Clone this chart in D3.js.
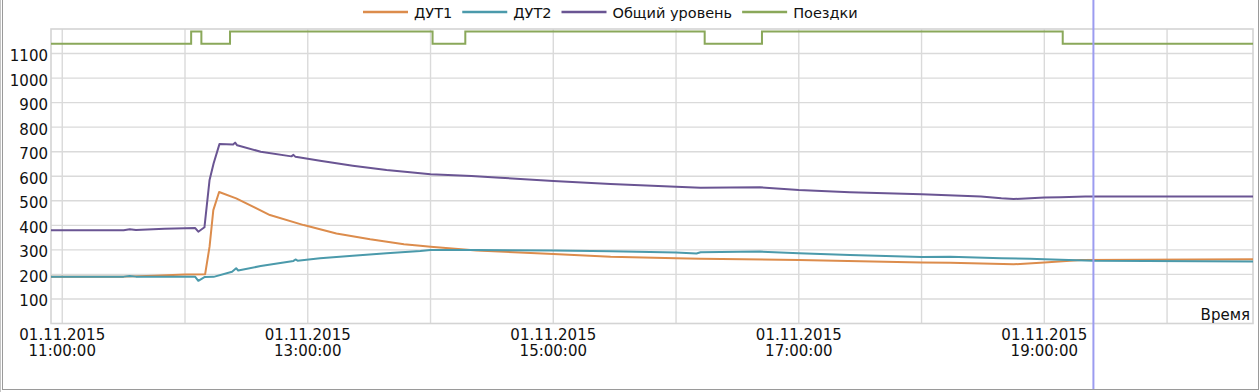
<!DOCTYPE html>
<html><head><meta charset="utf-8">
<script src="https://cdn.jsdelivr.net/npm/d3@7"></script>
<style>body{margin:0;background:#fff;}svg{display:block;font-family:"DejaVu Sans",sans-serif;}</style>
</head><body>
<svg id="c" width="1260" height="392"></svg>
<script>
// ---- data (time of day on 01.11.2015, value) ----
const seriesNames = ["ДУТ1", "ДУТ2", "Общий уровень", "Поездки"];
const dut1 = [["10:54:30",191],["11:30",191],["11:45",195],["12:00",200],["12:09:50",201],["12:12",313],["12:13:50",462],["12:16:40",536],["12:25",510],["12:41:30",442],["12:58",401],["13:14",367],["13:30:30",343],["13:47",323],["13:55",317],["14:00",313],["14:22:30",297],["15:00",283],["15:28",272],["16:00",266],["16:12",264],["17:00",259],["18:00",249],["18:14",248],["18:45",241],["19:00",249],["19:18",259],["20:42",262]];
const dut2 = [["10:54:30",191],["11:30",191],["11:33",194],["11:36",191],["12:05",190],["12:06:30",174],["12:09:30",189],["12:14",190],["12:23",211],["12:25",225],["12:26",216],["12:37",234],["12:53",255],["12:54",261],["12:55",256],["13:06",266],["13:22",276],["13:38:30",286],["13:55",295],["14:00",299],["14:22",299],["15:00",297],["15:28",294],["16:00",289],["16:10",285],["16:12",290],["16:41",293],["17:00",286],["17:25",279],["18:00",271],["18:14",272],["18:39",266],["18:53",264],["19:00",262],["19:24",256],["20:42",253]];
const total = [["10:54:30",380],["11:30",380],["11:33",384],["11:36",381],["11:50",386],["12:05",389],["12:06:30",374],["12:09:30",392],["12:12",585],["12:14",653],["12:16:50",731],["12:23:30",729],["12:24:30",737],["12:25:30",726],["12:37",700],["12:52",681],["12:53",687],["12:54",679],["13:06",663],["13:22",643],["13:38:30",625],["13:50",616],["14:00",608],["14:20",601],["14:34",594],["15:00",581],["15:28",568],["16:00",557],["16:12",553],["16:41",555],["17:00",544],["17:25",535],["18:00",527],["18:29",517],["18:39",510],["18:45",507],["19:00",513],["19:08",514],["19:20",517],["20:42",517]];
const trips = [["10:54:30",1140],["12:03",1190],["12:08",1140],["12:22",1190],["14:01",1140],["14:17",1190],["16:14",1140],["16:42",1190],["19:09",1140],["20:42",1140]];
const yTicks = [100,200,300,400,500,600,700,800,900,1000,1100];
const xDomain = ["10:54:30","20:42"];
const cursorTime = "19:24";
const dateLabel = "01.11.2015";
const xTitle = "Время";
const colors = ["#dc8c4c","#4b9aab","#6a5593","#8aa85a"];

// ---- drawing ----
const parse = s => { const p = s.split(":").map(Number); return new Date(2015,10,1,p[0],p[1],p[2]||0); };
const svg = d3.select("#c");
const L = 51, R = 1253, T = 29, B = 323.5;
const x = d3.scaleTime().domain(xDomain.map(parse)).range([L,R]);
const y = d3.scaleLinear().domain([0,1200]).range([B,T]);

// outer frame
svg.append("rect").attr("x",2.5).attr("y",-5).attr("width",1256).attr("height",394.5)
  .attr("fill","none").attr("stroke","#9a9a9a").attr("stroke-width",1);
svg.append("line").attr("x1",0.5).attr("x2",0.5).attr("y1",0).attr("y2",392).attr("stroke","#c4c4c4");

const grid = svg.append("g").attr("stroke","#dadada").attr("stroke-width",1.4);
const hours = d3.timeHour.every(1).range(x.domain()[0], x.domain()[1]);
grid.selectAll(".v").data(hours).join("line")
  .attr("x1",d=>x(d)).attr("x2",d=>x(d)).attr("y1",T).attr("y2",B);
grid.selectAll(".h").data(yTicks).join("line")
  .attr("x1",L).attr("x2",R).attr("y1",d=>y(d)).attr("y2",d=>y(d));
svg.append("rect").attr("x",L).attr("y",T).attr("width",R-L).attr("height",B-T)
  .attr("fill","none").attr("stroke","#d4d4d4").attr("stroke-width",1.6);

// y labels
svg.append("g").selectAll("text").data(yTicks).join("text")
  .attr("x",48).attr("y",d=>y(d)+7.5).attr("text-anchor","end")
  .attr("font-size",15).attr("fill","#111").text(d=>d);

// x labels (every 2 hours)
const labHours = hours.filter(h => h.getHours() % 2 === 1);
const fmt = d3.timeFormat("%H:%M:%S");
const xl = svg.append("g").selectAll("g").data(labHours).join("g")
  .attr("transform",d=>`translate(${x(d)},0)`);
xl.append("text").attr("y",339.5).attr("text-anchor","middle").attr("font-size",15).attr("fill","#111").text(dateLabel);
xl.append("text").attr("y",355.5).attr("text-anchor","middle").attr("font-size",15).attr("fill","#111").text(d=>fmt(d));

svg.append("text").attr("x",1250).attr("y",320).attr("text-anchor","end")
  .attr("font-size",15).attr("fill","#111").text(xTitle);

// series
const line = d3.line().x(d=>x(parse(d[0]))).y(d=>y(d[1]));
const stepLine = d3.line().x(d=>x(parse(d[0]))).y(d=>y(d[1])).curve(d3.curveStepAfter);
const data = [dut1,dut2,total];
data.forEach((s,i)=>{
  svg.append("path").datum(s).attr("d",line).attr("fill","none")
    .attr("stroke",colors[i]).attr("stroke-width",2).attr("stroke-linejoin","round");
});
svg.append("path").datum(trips).attr("d",stepLine).attr("fill","none")
  .attr("stroke",colors[3]).attr("stroke-width",2);

// cursor line
svg.append("line").attr("x1",x(parse(cursorTime))).attr("x2",x(parse(cursorTime)))
  .attr("y1",0).attr("y2",389).attr("stroke","#9c9cf0").attr("stroke-width",2);

// legend
const lg = svg.append("g").attr("font-size",14.5).attr("fill","#111");
let lx = 363;
seriesNames.forEach((n,i)=>{
  lg.append("line").attr("x1",lx).attr("x2",lx+45).attr("y1",12).attr("y2",12)
    .attr("stroke",colors[i]).attr("stroke-width",2.5);
  const t = lg.append("text").attr("x",lx+51).attr("y",18).text(n);
  lx += 51 + t.node().getComputedTextLength() + 10;
});
</script>
</body></html>
